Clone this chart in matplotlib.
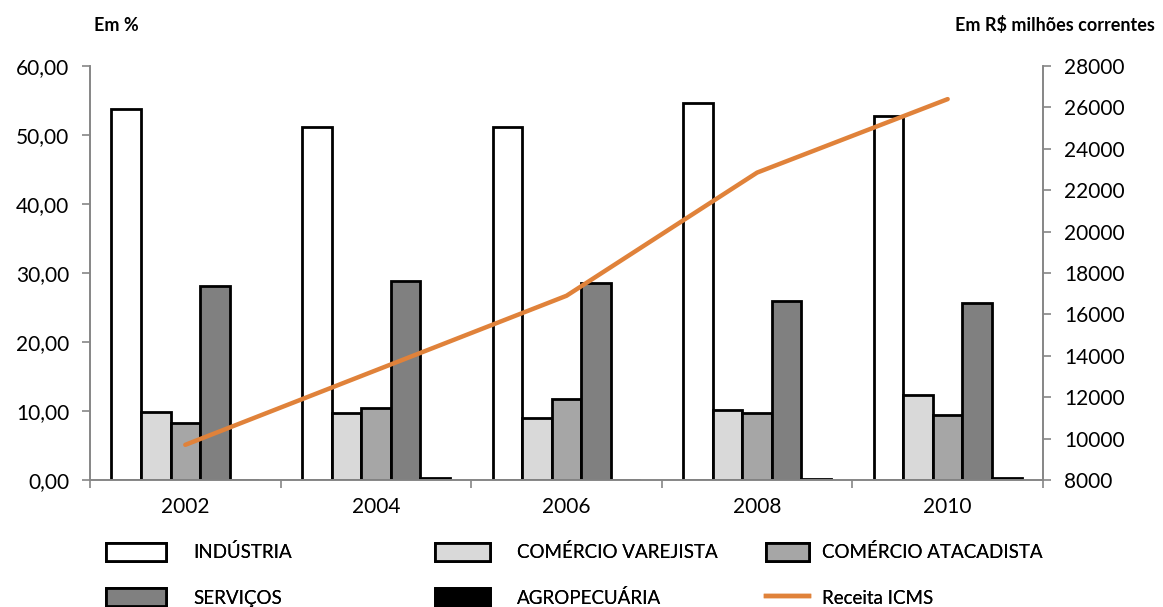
import matplotlib
matplotlib.use('Agg')
import matplotlib.pyplot as plt
from matplotlib.patches import Patch
from matplotlib.lines import Line2D
from matplotlib.ticker import FuncFormatter, FixedLocator
import numpy as np

anos = ['2002', '2004', '2006', '2008', '2010']
industria = [53.8, 51.1, 51.1, 54.6, 52.7]
varejista = [9.9, 9.7, 9.0, 10.2, 12.3]
atacadista = [8.3, 10.4, 11.7, 9.7, 9.4]
servicos = [28.1, 28.9, 28.6, 26.0, 25.7]
agropecuaria = [0.05, 0.25, 0.05, 0.1, 0.25]
receita_icms = [9700, 13300, 16900, 22850, 26400]

series = [
    ('INDÚSTRIA', industria, '#ffffff'),
    ('COMÉRCIO VAREJISTA', varejista, '#d9d9d9'),
    ('COMÉRCIO ATACADISTA', atacadista, '#a6a6a6'),
    ('SERVIÇOS', servicos, '#808080'),
    ('AGROPECUÁRIA', agropecuaria, '#000000'),
]

plt.rcParams['font.family'] = ['Lato', 'DejaVu Sans']
axcol = '#868686'

fig = plt.figure(figsize=(11.63, 6.07), dpi=100)
ax1 = fig.add_axes([0.0774, 0.2092, 0.8194, 0.6821])
ax2 = ax1.twinx()

x = np.arange(len(anos))
w = 0.155
for i, (nome, vals, cor) in enumerate(series):
    ax1.bar(x + (i - 2) * w, vals, width=w, color=cor, edgecolor='black',
            linewidth=2, zorder=2)

ax2.plot(x, receita_icms, color='#e0823a', linewidth=3.2, solid_capstyle='round', zorder=3)
ax1.set_zorder(1)
ax2.set_zorder(2)
ax1.patch.set_visible(False)

ax1.set_xlim(-0.5, 4.5)
ax1.set_ylim(0, 60)
ax2.set_ylim(8000, 28000)
ax1.set_yticks(np.arange(0, 61, 10))
ax2.set_yticks(np.arange(8000, 28001, 2000))
ax1.yaxis.set_major_formatter(FuncFormatter(lambda v, p: ('%.2f' % v).replace('.', ',')))

ax1.set_xticks(x)
ax1.set_xticklabels(anos)
ax1.xaxis.set_minor_locator(FixedLocator(np.arange(-0.5, 4.6, 1)))
ax1.tick_params(axis='x', which='major', length=0, pad=12, labelsize=15)
ax1.tick_params(axis='x', which='minor', length=6, color=axcol, width=1.2)
ax1.tick_params(axis='y', length=6, color=axcol, width=1.2, labelsize=15, pad=9)
ax2.tick_params(axis='y', length=6, color=axcol, width=1.2, labelsize=15, pad=9)

for a in (ax1, ax2):
    a.spines['top'].set_visible(False)
    for s in ('left', 'right', 'bottom'):
        a.spines[s].set_color(axcol)
        a.spines[s].set_linewidth(1.2)

fig.text(0.081, 0.958, 'Em %', fontsize=13, fontweight='bold', ha='left', va='center')
fig.text(0.993, 0.958, 'Em R$ milhões correntes', fontsize=13, fontweight='bold',
         ha='right', va='center')

# legenda em tres colunas
handles = [Patch(facecolor=c, edgecolor='black', linewidth=2) for _, _, c in series]
labels = [n for n, _, _ in series]
handles.append(Line2D([], [], color='#e0823a', linewidth=3.2))
labels.append('Receita ICMS')

cols = [(0, 3, 0.085, 3.2, 1.45), (1, 4, 0.368, 2.9, 1.45), (2, 5, 0.652, 2.3, 0.7)]
for a, b, xpos, hl, pad in cols:
    leg = fig.legend([handles[a], handles[b]], [labels[a], labels[b]],
                     loc='upper left', bbox_to_anchor=(xpos, 0.118), frameon=False,
                     fontsize=13.5, handlelength=hl, handleheight=1.1,
                     handletextpad=pad, labelspacing=1.45, borderaxespad=0)
    fig.add_artist(leg)

fig.savefig('out.png', dpi=100)
